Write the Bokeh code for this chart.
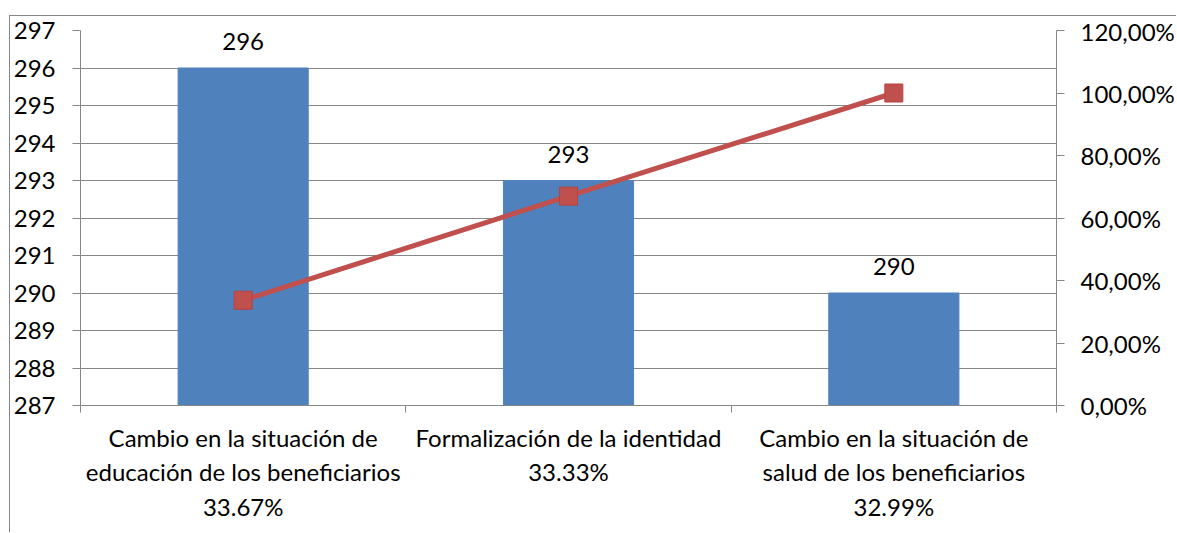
from bokeh.plotting import figure
from bokeh.models import (Range1d, LinearAxis, FixedTicker, CustomJSTickFormatter,
                          ColumnDataSource, LabelSet)
from bokeh.core.properties import value
from bokeh.embed import file_html
from bokeh.resources import INLINE

categories = ["Cambio en la situación de\neducación de los beneficiarios\n33.67%",
              "Formalización de la identidad\n33.33%",
              "Cambio en la situación de\nsalud de los beneficiarios\n32.99%"]
counts = [296, 293, 290]
cumulative = [0.3367, 0.67, 1.00]

FONT = "Lato"
FS = "24px"
GRAY = "#868686"
xs = [i + 0.5 for i in range(len(categories))]

src = ColumnDataSource(dict(x=xs, top=counts, cum=cumulative,
                            lbl=[str(c) for c in counts]))

p = figure(width=1167, height=517, output_backend="svg", toolbar_location=None,
           x_range=Range1d(0, 3), y_range=Range1d(287, 297),
           min_border_left=68, min_border_right=118, min_border_top=14,
           min_border_bottom=128, outline_line_color=None)
p.styles = {"margin-left": "9px", "margin-top": "15px",
            "border-top": "1px solid #868686", "border-left": "1px solid #868686"}
p.extra_y_ranges = {"pct": Range1d(0, 1.2)}

p.vbar(x="x", top="top", bottom=287, width=0.4, color="#4F81BD", source=src)
p.line(x="x", y="cum", y_range_name="pct", line_color="#C0504D", line_width=5, source=src)
p.scatter(x="x", y="cum", y_range_name="pct", marker="square", size=18,
          fill_color="#C0504D", line_color="#B9413E", source=src)

p.add_layout(LabelSet(x="x", y="top", text="lbl", source=src, text_align="center",
                      text_baseline="alphabetic", y_offset=18, text_font=value(FONT),
                      text_font_size=value(FS), text_color="black"))

# axes styling
xa = p.xaxis[0]
xa.ticker = FixedTicker(ticks=xs, minor_ticks=[0, 1, 2, 3])
xa.major_label_overrides = {x: c for x, c in zip(xs, categories)}
xa.major_tick_out = 0
xa.major_tick_in = 0
xa.minor_tick_out = 7
xa.minor_tick_in = 0
xa.minor_tick_line_color = GRAY
xa.axis_line_color = GRAY
xa.major_label_standoff = 10
xa.major_label_text_font = FONT
xa.major_label_text_font_size = FS
xa.major_label_text_color = "black"

ya = p.yaxis[0]
ya.ticker = FixedTicker(ticks=list(range(287, 298)))
ya.major_tick_out = 8
ya.major_tick_in = 0
ya.minor_tick_line_color = None
ya.axis_line_color = GRAY
ya.major_tick_line_color = GRAY
ya.major_label_standoff = 17
ya.major_label_text_font = FONT
ya.major_label_text_font_size = FS
ya.major_label_text_color = "black"

ra = LinearAxis(y_range_name="pct",
                ticker=FixedTicker(ticks=[0, 0.2, 0.4, 0.6, 0.8, 1.0, 1.2]),
                formatter=CustomJSTickFormatter(code="return (tick*100).toFixed(2).replace('.', ',') + '%';"))
ra.major_tick_out = 8
ra.major_tick_in = 0
ra.minor_tick_line_color = None
ra.axis_line_color = GRAY
ra.major_tick_line_color = GRAY
ra.major_label_standoff = 16
ra.major_label_text_font = FONT
ra.major_label_text_font_size = FS
ra.major_label_text_color = "black"
p.add_layout(ra, "right")

p.xgrid.grid_line_color = None
p.ygrid.grid_line_color = GRAY
p.ygrid.grid_line_width = 1
p.ygrid.ticker = FixedTicker(ticks=list(range(287, 298)))

open("out.html", "w").write(file_html(p, INLINE))
